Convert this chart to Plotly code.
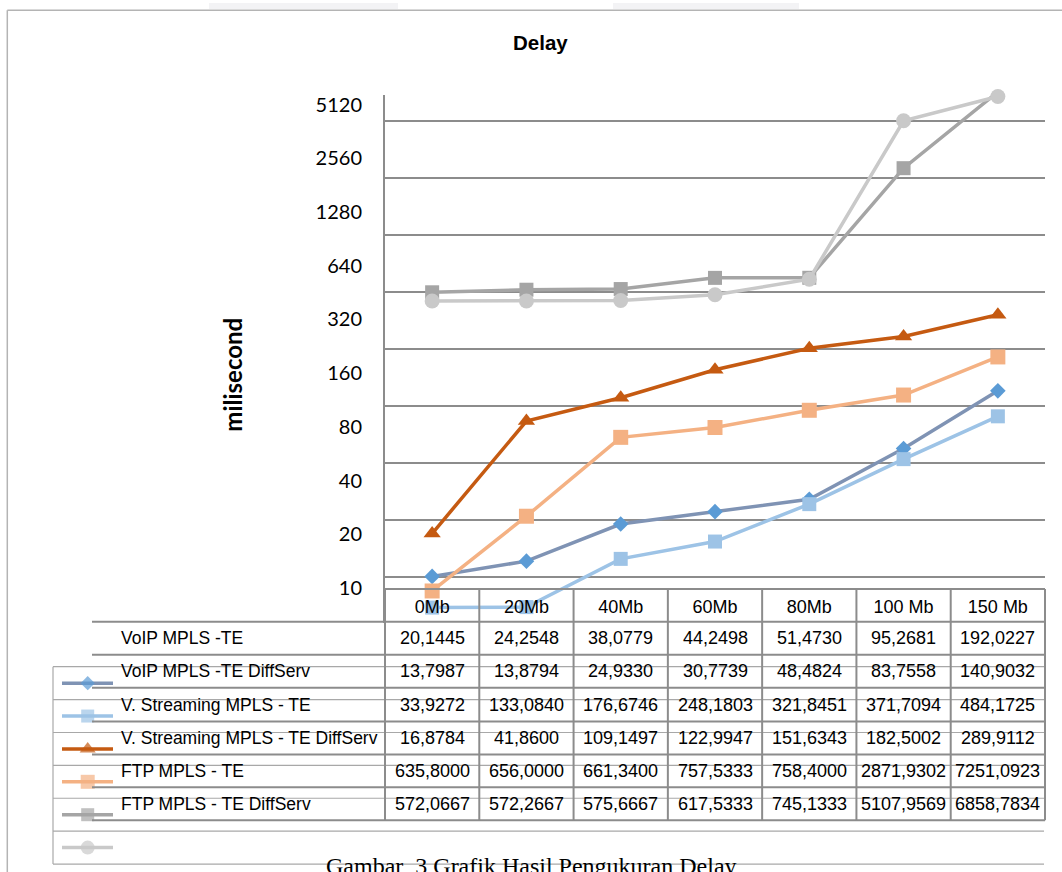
import plotly.graph_objects as go
import math

# ---- data -------------------------------------------------------------
categories = ["0Mb", "20Mb", "40Mb", "60Mb", "80Mb", "100 Mb", "150 Mb"]

series_names = [
    "VoIP MPLS -TE",
    "VoIP MPLS -TE DiffServ",
    "V. Streaming MPLS - TE",
    "V. Streaming MPLS - TE DiffServ",
    "FTP MPLS - TE",
    "FTP MPLS - TE DiffServ",
]

voip_te = [20.1445, 24.2548, 38.0779, 44.2498, 51.4730, 95.2681, 192.0227]
voip_te_diffserv = [13.7987, 13.8794, 24.9330, 30.7739, 48.4824, 83.7558, 140.9032]
vstream_te = [33.9272, 133.0840, 176.6746, 248.1803, 321.8451, 371.7094, 484.1725]
vstream_te_diffserv = [16.8784, 41.8600, 109.1497, 122.9947, 151.6343, 182.5002, 289.9112]
ftp_te = [635.8000, 656.0000, 661.3400, 757.5333, 758.4000, 2871.9302, 7251.0923]
ftp_te_diffserv = [572.0667, 572.2667, 575.6667, 617.5333, 745.1333, 5107.9569, 6858.7834]

y_tick_values = [10, 20, 40, 80, 160, 320, 640, 1280, 2560, 5120]

all_series = [voip_te, voip_te_diffserv, vstream_te, vstream_te_diffserv, ftp_te, ftp_te_diffserv]

# ---- styles -----------------------------------------------------------
line_colors = ["#7F93B4", "#9DC3E6", "#C55A11", "#F4B183", "#A5A5A5", "#C9C9C9"]
marker_colors = ["#5B9BD5", "#9DC3E6", "#C55A11", "#F4B183", "#A5A5A5", "#C9C9C9"]
marker_symbols = ["diamond", "square", "triangle-up", "square", "square", "circle"]
marker_sizes = [12, 14, 15, 15, 14, 15]

W, H = 1062, 872
SANS = "Liberation Sans, Arial, sans-serif"
GRID = "#8C8C8C"
TABLE = "#8C8C8C"
LEGBOX = "#A8A8A8"

# plot-area geometry (pixels)
PX_LEFT, PX_RIGHT = 385, 1045
PX_TOP, PX_BOTTOM = 92, 622
HEADER_TOP = 588

# value axis: gridline for 20 at y=576, one octave = 57.25 px
OCT = 57.25
L2 = math.log10(2)


def data_log(p):
    return math.log10(20) + (576 - p) / OCT * L2


# label axis: 10 at y=587 and 5120 at y=102
OCT_LBL = (587 - 102) / 9.0


def label_log(p):
    return math.log10(10) + (587 - p) / OCT_LBL * L2


fig = go.Figure()

for i, vals in enumerate(all_series):
    fig.add_trace(go.Scatter(
        x=categories, y=vals, name=series_names[i], mode="lines+markers",
        line=dict(color=line_colors[i], width=3.5),
        marker=dict(symbol=marker_symbols[i], size=marker_sizes[i],
                    color=marker_colors[i], line=dict(width=0)),
        xaxis="x", yaxis="y", showlegend=False, cliponaxis=False,
    ))

# invisible anchor so the label axis is rendered
fig.add_trace(go.Scatter(
    x=[categories[0]], y=[y_tick_values[1]], mode="markers",
    marker=dict(size=1, opacity=0), xaxis="x", yaxis="y2",
    showlegend=False, hoverinfo="skip",
))

# legend keys inside the data table (pixel-coordinate overlay axes)
for i in range(len(all_series)):
    yk = 682.5 + 33 * i
    fig.add_trace(go.Scatter(
        x=[62, 87.7, 113], y=[yk, yk, yk], mode="lines+markers",
        line=dict(color=line_colors[i], width=3.5),
        marker=dict(symbol=marker_symbols[i], size=[0, marker_sizes[i] - 1, 0],
                    color=marker_colors[i], line=dict(width=0)),
        xaxis="x3", yaxis="y3", showlegend=False, hoverinfo="skip",
    ))

shapes = []


def hline(y, x0, x1, color, width):
    shapes.append(dict(type="line", xref="x3", yref="y3", x0=x0, x1=x1, y0=y, y1=y,
                       line=dict(color=color, width=width), layer="above"))


def vline(x, y0, y1, color, width):
    shapes.append(dict(type="line", xref="x3", yref="y3", x0=x, x1=x, y0=y0, y1=y1,
                       line=dict(color=color, width=width), layer="above"))


# page strip and outer frame
for x0, x1 in [(209, 398), (613, 799)]:
    shapes.append(dict(type="rect", xref="x3", yref="y3", x0=x0, x1=x1, y0=0, y1=6,
                       fillcolor="#F3F3F5", line=dict(width=0), layer="below"))
hline(7.3, 7.3, 1062, "#B4B4B4", 1.5)
vline(7.3, 7.3, 872, "#B4B4B4", 1.5)

# legend box rows
leg_rows = [666 + 33 * k for k in range(7)]
for y in leg_rows:
    hline(y, 53, 1044, LEGBOX, 1.2)
vline(53, leg_rows[0], leg_rows[-1], LEGBOX, 1.2)

# data table grid
col_w = (PX_RIGHT - PX_LEFT) / len(categories)
col_edges = [PX_LEFT + col_w * k for k in range(len(categories) + 1)]
row_edges = [621, 654, 687, 721, 754, 787, 820]
hline(HEADER_TOP, PX_LEFT, PX_RIGHT, TABLE, 2)
for y in row_edges:
    hline(y, 92, PX_RIGHT, TABLE, 2)
for x in col_edges:
    vline(x, HEADER_TOP, row_edges[-1], TABLE, 2)

annotations = []


def note(x, y, text, size, family, xanchor="center", bold=False, angle=0, color="#000000"):
    annotations.append(dict(
        xref="x3", yref="y3", x=x, y=y, text=f"<b>{text}</b>" if bold else text,
        showarrow=False, xanchor=xanchor, yanchor="middle", textangle=angle,
        font=dict(family=family, size=size, color=color)))


note(540, 40, "Delay", 20.5, SANS, bold=True)
note(233, 373, "milisecond", 24, "Lato, sans-serif", bold=True, angle=-90)

for i, name in enumerate(series_names):
    yc = (row_edges[i] + row_edges[i + 1]) / 2
    note(119, yc, name, 17.5, SANS, xanchor="left")
    for j, v in enumerate(all_series[i]):
        xc = PX_LEFT + col_w * (j + 0.5)
        note(xc, yc, f"{v:.4f}".replace(".", ","), 18, SANS)

note(531, 866, "Gambar&nbsp;&nbsp;3 Grafik Hasil Pengukuran Delay", 24,
     "Liberation Serif, Times New Roman, serif")

fig.update_layout(
    width=W, height=H,
    margin=dict(l=0, r=0, t=0, b=0),
    paper_bgcolor="white", plot_bgcolor="rgba(0,0,0,0)",
    showlegend=False,
    xaxis=dict(
        domain=[PX_LEFT / W, PX_RIGHT / W], type="category",
        range=[-0.5, len(categories) - 0.5],
        anchor="free", position=1 - HEADER_TOP / H,
        showgrid=False, showline=False, zeroline=False,
        ticks="outside", ticklen=1, tickcolor="rgba(0,0,0,0)",
        tickfont=dict(family=SANS, size=18, color="#000000"),
    ),
    yaxis=dict(
        domain=[1 - PX_BOTTOM / H, 1 - PX_TOP / H], type="log",
        range=[data_log(PX_BOTTOM), data_log(PX_TOP)],
        tickvals=y_tick_values, showticklabels=False, ticks="",
        showgrid=True, gridcolor=GRID, gridwidth=1.5,
        showline=True, linecolor=GRID, linewidth=1.5, zeroline=False,
        anchor="x",
    ),
    yaxis2=dict(
        overlaying="y", side="left", anchor="x", type="log",
        range=[label_log(PX_BOTTOM), label_log(PX_TOP)],
        tickvals=y_tick_values, ticktext=[str(v) for v in y_tick_values],
        showgrid=False, showline=False, zeroline=False,
        ticks="outside", ticklen=18, tickcolor="rgba(0,0,0,0)",
        tickfont=dict(family="Lato, sans-serif", size=20, color="#000000"),
    ),
    xaxis3=dict(domain=[0, 1], range=[0, W], visible=False, anchor="y3", fixedrange=True),
    yaxis3=dict(domain=[0, 1], range=[H, 0], visible=False, anchor="x3", fixedrange=True),
    shapes=shapes,
    annotations=annotations,
)

fig.write_html("out.html")
